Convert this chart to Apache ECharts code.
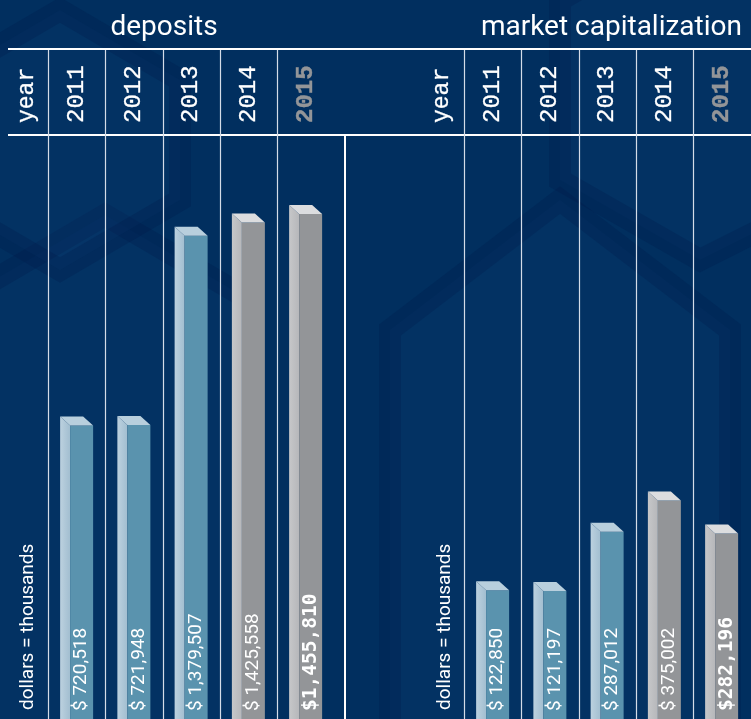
<!DOCTYPE html>
<html>
<head>
<meta charset="utf-8">
<script src="https://cdn.jsdelivr.net/npm/echarts@6/dist/echarts.min.js"></script>
<style>
  html, body { margin: 0; padding: 0; background: #012f5f; }
  #chart { width: 751px; height: 719px; }
</style>
</head>
<body>
<div id="chart"></div>
<script>
// data
var years = ['2011', '2012', '2013', '2014', '2015'];
var deposits = [720518, 721948, 1379507, 1425558, 1455810];
var marketCap = [122850, 121197, 287012, 375002, 282196];
var panelTitles = ['deposits', 'market capitalization'];
var yearHeader = 'year';
var unitNote = 'dollars = thousands';

var chartDom = document.getElementById('chart');
var myChart = echarts.init(chartDom);

// layout
var gridTop = 135;
var bandW = 57.25;
var panels = [
  { left: 48, min: -300000, max: 1730000 },
  { left: 464, min: -238000, max: 1400000 }
];

function fmt(v) {
  return v.toString().replace(/\B(?=(\d{3})+(?!\d))/g, ',');
}

var blue = { front: '#5a93ae', top: '#b8cfdd', sideA: '#bcd1df', sideB: '#a2bed0' };
var grey = { front: '#939598', top: '#dcdddf', sideA: '#c6c7c9', sideB: '#b6b7ba' };

function makeRenderer(yMin) {
  return function (params, api) {
    var i = params.dataIndex;
    var v = api.value(1);
    var p = api.coord([i, v]);
    var b = api.coord([i, yMin]);
    var sideW = 10, frontW = 23, depth = 9;
    var x0 = p[0] - (sideW + frontW) / 2;
    var y0 = p[1];
    var c = i >= 3 ? grey : blue;
    var isLast = i === years.length - 1;
    var txt = isLast ? '$' + fmt(v) : '$ ' + fmt(v);
    return {
      type: 'group',
      children: [
        {
          type: 'polygon',
          shape: { points: [[x0, y0 - depth], [x0 + sideW, y0], [x0 + sideW, b[1] + 20], [x0, b[1] + 20]] },
          style: {
            fill: {
              type: 'linear', x: 0, y: 0, x2: 1, y2: 0,
              colorStops: [{ offset: 0, color: c.sideA }, { offset: 1, color: c.sideB }]
            }
          }
        },
        {
          type: 'rect',
          shape: { x: x0 + sideW, y: y0, width: frontW, height: b[1] - y0 + 20 },
          style: { fill: c.front }
        },
        {
          type: 'polygon',
          shape: { points: [[x0, y0 - depth], [x0 + frontW, y0 - depth], [x0 + sideW + frontW, y0], [x0 + sideW, y0]] },
          style: { fill: c.top }
        },
        {
          type: 'text',
          x: x0 + sideW + frontW / 2,
          y: b[1] - 8,
          rotation: Math.PI / 2,
          style: {
            text: txt,
            fill: '#ffffff',
            fontFamily: isLast ? 'DejaVu Sans Mono' : 'Roboto',
            fontWeight: isLast ? 'bold' : 'normal',
            fontSize: isLast ? 19.5 : 19,
            align: 'left',
            verticalAlign: 'middle'
          }
        }
      ]
    };
  };
}

var yearLabel = {
  rotate: 90,
  margin: 12,
  color: '#ffffff',
  fontFamily: 'Liberation Mono',
  fontSize: 24,
  textBorderColor: '#ffffff',
  textBorderWidth: 0.3,
  formatter: function (val, idx) {
    return idx === years.length - 1 ? '{b|' + val + '}' : val;
  },
  rich: {
    b: { color: '#939598', fontWeight: 'bold', fontFamily: 'Liberation Mono', fontSize: 24, textBorderColor: '#939598', textBorderWidth: 0.4 }
  }
};

// lines of the table
var lineColor = '#d4dce8';
var graphics = [];

// faint hexagon pattern in background
var hexes = [
  [[-40, 300], [105, 215], [250, 300], [250, 760], [-40, 760]],
  [[390, 330], [560, 200], [730, 330], [730, 760], [390, 760]],
  [[560, 0], [700, -80], [860, 0], [860, 180], [700, 260], [560, 180]],
  [[-60, 80], [60, 10], [180, 80], [180, 200], [60, 270], [-60, 200]]
];
hexes.forEach(function (pts) {
  graphics.push({
    type: 'polygon', z: -10, silent: true,
    shape: { points: pts },
    style: { fill: 'rgba(20,70,125,0.14)', stroke: 'rgba(0,25,70,0.25)', lineWidth: 22 }
  });
});

graphics.push(
  { type: 'line', shape: { x1: 8, y1: 49, x2: 751, y2: 49 }, style: { stroke: '#ffffff', lineWidth: 2 } },
  { type: 'line', shape: { x1: 8, y1: gridTop, x2: 751, y2: gridTop }, style: { stroke: '#ffffff', lineWidth: 2 } },
  { type: 'line', shape: { x1: 345, y1: gridTop, x2: 345, y2: 719 }, style: { stroke: '#ffffff', lineWidth: 2 } }
);
panels.forEach(function (pn) {
  for (var k = 0; k < years.length; k++) {
    var x = Math.round(pn.left + k * bandW) + 0.5;
    graphics.push({ type: 'line', shape: { x1: x, y1: 50, x2: x, y2: 719 }, style: { stroke: lineColor, lineWidth: 1.2 } });
  }
});

// header and notes
var headStyle = { text: yearHeader, fill: '#ffffff', stroke: '#ffffff', lineWidth: 0.3, fontFamily: 'Liberation Mono', fontSize: 23, align: 'left', verticalAlign: 'middle' };
graphics.push(
  { type: 'text', x: 164, y: 28, style: { text: panelTitles[0], fill: '#ffffff', fontFamily: 'Roboto', fontSize: 28, align: 'center', verticalAlign: 'middle' } },
  { type: 'text', x: 742, y: 28, style: { text: panelTitles[1], fill: '#ffffff', fontFamily: 'Roboto', fontSize: 28, align: 'right', verticalAlign: 'middle' } },
  { type: 'text', x: 27, y: 123, rotation: Math.PI / 2, style: headStyle },
  { type: 'text', x: 442, y: 123, rotation: Math.PI / 2, style: headStyle },
  { type: 'text', x: 28, y: 710, rotation: Math.PI / 2, style: { text: unitNote, fill: '#ffffff', fontFamily: 'Roboto', fontSize: 19, align: 'left', verticalAlign: 'middle' } },
  { type: 'text', x: 445, y: 710, rotation: Math.PI / 2, style: { text: unitNote, fill: '#ffffff', fontFamily: 'Roboto', fontSize: 19, align: 'left', verticalAlign: 'middle' } }
);

var option = {
  backgroundColor: '#012f5f',
  animation: false,
  graphic: { elements: graphics },
  grid: panels.map(function (pn) {
    return { left: pn.left, top: gridTop, width: bandW * years.length, bottom: 0 };
  }),
  xAxis: panels.map(function (pn, k) {
    return {
      type: 'category', gridIndex: k, data: years, position: 'top',
      axisLine: { show: false }, axisTick: { show: false }, splitLine: { show: false },
      axisLabel: yearLabel
    };
  }),
  yAxis: panels.map(function (pn, k) {
    return { type: 'value', gridIndex: k, min: pn.min, max: pn.max, show: false, splitLine: { show: false } };
  }),
  series: [
    {
      type: 'custom', name: 'deposits', xAxisIndex: 0, yAxisIndex: 0, clip: false,
      renderItem: makeRenderer(panels[0].min),
      data: deposits.map(function (v, i) { return [i, v]; })
    },
    {
      type: 'custom', name: 'market capitalization', xAxisIndex: 1, yAxisIndex: 1, clip: false,
      renderItem: makeRenderer(panels[1].min),
      data: marketCap.map(function (v, i) { return [i, v]; })
    }
  ]
};

option && myChart.setOption(option);
</script>
</body>
</html>
